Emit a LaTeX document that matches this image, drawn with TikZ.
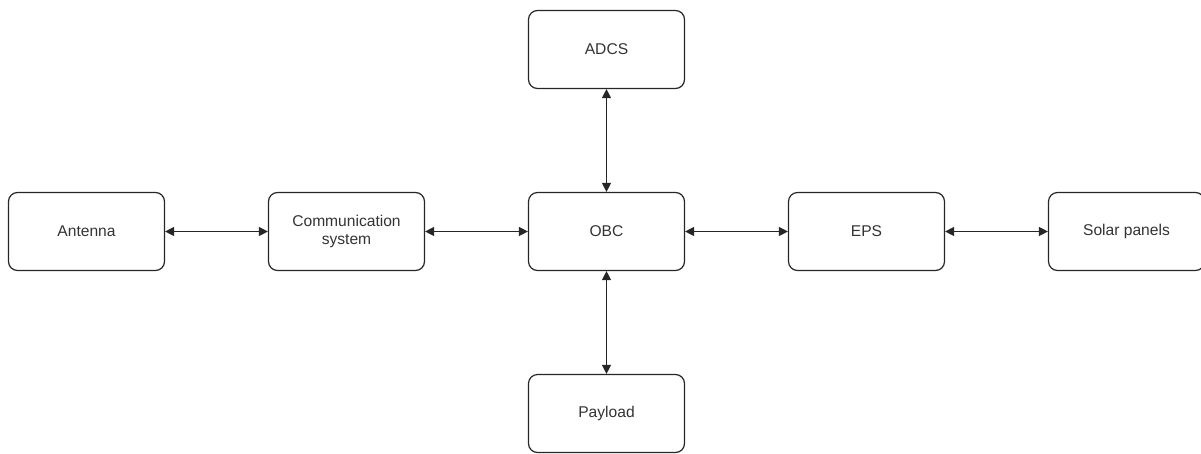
\documentclass[tikz,border=0pt]{standalone}
\usepackage{fontspec}
\setmainfont{Liberation Sans}
\usetikzlibrary{arrows.meta}
\begin{document}
\begin{tikzpicture}[x=1pt,y=-1pt,
  blk/.style={draw=black!85, line width=1.2pt, rounded corners=9pt, minimum width=156pt, minimum height=78pt, inner sep=0pt, align=center, font=\fontsize{15.6}{18}\selectfont, text=black!80},
  link/.style={draw=black!85, line width=1.3pt, {Triangle[length=9pt,width=9pt]}-{Triangle[length=9pt,width=9pt]}}]
\useasboundingbox (0,0) rectangle (1201,453);
\node[blk] (ant) at (86.5,231.5) {Antenna};
\node[blk] (com) at (346.5,231.5) {Communication\\system};
\node[blk] (obc) at (606.5,231.5) {OBC};
\node[blk] (eps) at (866.5,231.5) {EPS};
\node[blk] (sol) at (1126.5,231.5) {Solar panels};
\node[blk] (adcs) at (606.5,49.5) {ADCS};
\node[blk] (pay) at (606.5,413.5) {Payload};
\draw[link] (ant) -- (com);
\draw[link] (com) -- (obc);
\draw[link] (obc) -- (eps);
\draw[link] (eps) -- (sol);
\draw[link] (adcs) -- (obc);
\draw[link] (obc) -- (pay);
\end{tikzpicture}
\end{document}
